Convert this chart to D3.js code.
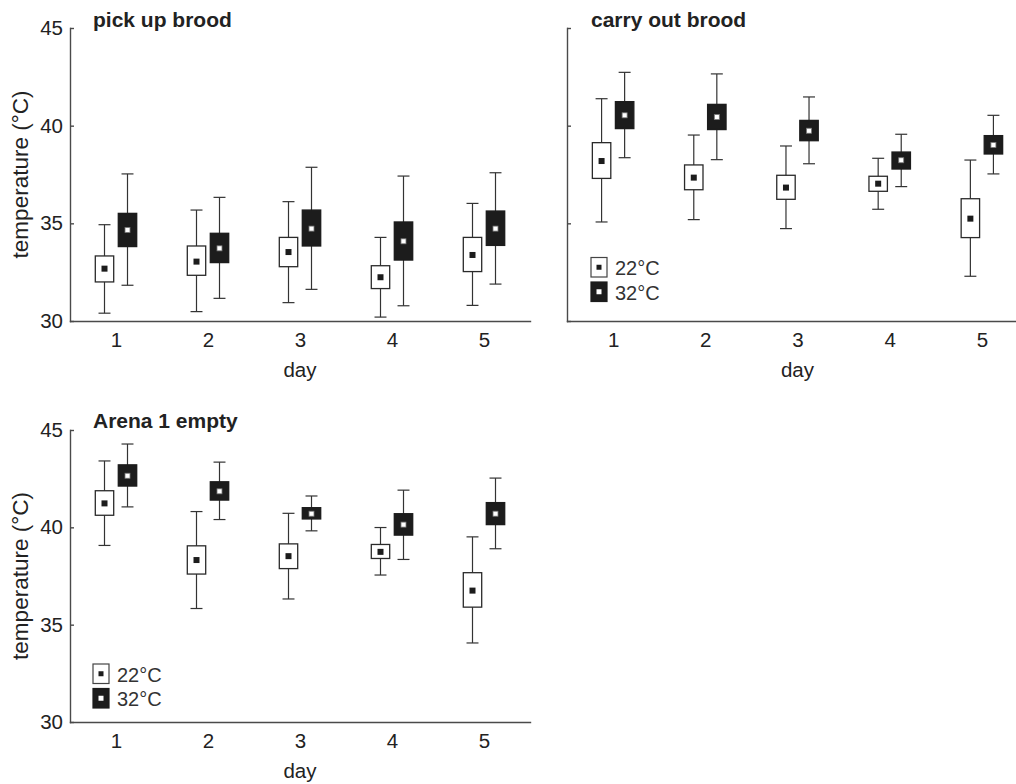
<!DOCTYPE html>
<html>
<head>
<meta charset="utf-8">
<script src="https://cdn.jsdelivr.net/npm/d3@7"></script>
<style>
  html, body { margin: 0; padding: 0; background: #fff; }
  svg { display: block; font-family: "Liberation Sans", Arial, Helvetica, sans-serif; }
</style>
</head>
<body>
<script>
// ---------------- data ----------------
const days = [1, 2, 3, 4, 5];
const yTicks = [30, 35, 40, 45];
const seriesNames = ["22°C", "32°C"];
const panelTitles = ["pick up brood", "carry out brood", "Arena 1 empty"];
const xLabel = "day";
const yLabel = "temperature (°C)";

// each entry: [whisker low, Q1, median, Q3, whisker high]
const pickUp22 = [
  [30.4, 32.0, 32.68, 33.33, 34.93],
  [30.48, 32.34, 33.04, 33.84, 35.68],
  [30.94, 32.78, 33.53, 34.28, 36.11],
  [30.2, 31.66, 32.24, 32.83, 34.28],
  [30.8, 32.53, 33.38, 34.28, 36.02]
];
const pickUp32 = [
  [31.83, 33.81, 34.66, 35.51, 37.53],
  [31.16, 32.99, 33.72, 34.49, 36.33],
  [31.62, 33.84, 34.73, 35.68, 37.87],
  [30.78, 33.12, 34.08, 35.07, 37.42],
  [31.89, 33.87, 34.73, 35.63, 37.59]
];
const carryOut22 = [
  [35.07, 37.30, 38.19, 39.13, 41.38],
  [35.19, 36.72, 37.34, 37.99, 39.52],
  [34.73, 36.23, 36.83, 37.46, 38.96],
  [35.72, 36.64, 37.03, 37.41, 38.33],
  [32.29, 34.27, 35.24, 36.26, 38.24]
];
const carryOut32 = [
  [38.36, 39.85, 40.53, 41.23, 42.73],
  [38.26, 39.80, 40.44, 41.09, 42.65],
  [38.05, 39.23, 39.74, 40.27, 41.47],
  [36.88, 37.78, 38.23, 38.65, 39.56],
  [37.53, 38.55, 39.01, 39.49, 40.53]
];
const arena22 = [
  [39.07, 40.62, 41.23, 41.88, 43.41],
  [35.83, 37.60, 38.32, 39.05, 40.81],
  [36.32, 37.88, 38.52, 39.15, 40.72],
  [37.55, 38.40, 38.74, 39.12, 39.99],
  [34.06, 35.90, 36.75, 37.67, 39.51]
];
const arena32 = [
  [41.05, 42.12, 42.65, 43.21, 44.28],
  [40.40, 41.40, 41.85, 42.34, 43.35],
  [39.82, 40.43, 40.70, 41.01, 41.61],
  [38.35, 39.60, 40.14, 40.70, 41.91],
  [38.90, 40.14, 40.70, 41.27, 42.53]
];

// ---------------- drawing ----------------
const W = 1016, H = 784;
const TXT = "#222";
const AX = "#4a4a4a";
const DARK = "#1c1c1c";

const svg = d3.select("body").append("svg").attr("width", W).attr("height", H);

function drawPanel(cfg) {
  const x = d3.scaleLinear().domain([0.5, 5.5]).range([cfg.x0, cfg.x1]);
  const y = d3.scaleLinear().domain([30, 45]).range([cfg.yb, cfg.yt]);
  const g = svg.append("g");

  // y axis
  const yAxis = d3.axisLeft(y).tickValues(yTicks).tickSizeInner(-4).tickSizeOuter(0).tickPadding(7);
  if (!cfg.yLabels) yAxis.tickFormat("");
  const ya = g.append("g").attr("transform", `translate(${cfg.x0},0)`).call(yAxis);
  ya.selectAll("path, line").attr("stroke", AX).attr("stroke-width", 1.4);
  ya.selectAll("text").attr("fill", TXT).style("font-size", "20.5px");

  // x axis
  const xAxis = d3.axisBottom(x).tickValues(days).tickSize(0).tickPadding(11).tickFormat(d3.format("d"));
  const xa = g.append("g").attr("transform", `translate(0,${cfg.yb})`).call(xAxis);
  xa.selectAll("path, line").attr("stroke", AX).attr("stroke-width", 1.4);
  xa.selectAll("text").attr("fill", TXT).style("font-size", "20.5px");
  g.selectAll(".domain").attr("stroke-linecap", "square");

  // x label
  g.append("text").attr("x", x(3)).attr("y", cfg.yb + 56)
    .attr("text-anchor", "middle").attr("fill", TXT).style("font-size", "20.5px").text(xLabel);

  // y label
  if (cfg.yTitle) {
    g.append("text")
      .attr("transform", `translate(28,${(cfg.yb + cfg.yt) / 2}) rotate(-90)`)
      .attr("text-anchor", "middle").attr("fill", TXT).style("font-size", "22.5px").text(yLabel);
  }

  // title
  g.append("text").attr("x", cfg.titleX).attr("y", cfg.titleY)
    .attr("fill", TXT).style("font-size", "21px").style("font-weight", "bold").text(cfg.title);

  // boxes
  const offs = [-0.125, 0.125];
  const bw = x(0.2) - x(0);
  const cw = x(0.13) - x(0);
  [cfg.s22, cfg.s32].forEach((series, si) => {
    const sg = g.append("g");
    const items = series.map((v, i) => ({ day: days[i], v }));
    const grp = sg.selectAll("g").data(items).join("g")
      .attr("transform", d => `translate(${x(d.day + offs[si])},0)`);
    grp.append("line").attr("x1", 0).attr("x2", 0)
      .attr("y1", d => y(d.v[0])).attr("y2", d => y(d.v[4]))
      .attr("stroke", "#333").attr("stroke-width", 1.2);
    grp.append("line").attr("x1", -cw / 2).attr("x2", cw / 2)
      .attr("y1", d => y(d.v[4])).attr("y2", d => y(d.v[4]))
      .attr("stroke", "#333").attr("stroke-width", 1.2);
    grp.append("line").attr("x1", -cw / 2).attr("x2", cw / 2)
      .attr("y1", d => y(d.v[0])).attr("y2", d => y(d.v[0]))
      .attr("stroke", "#333").attr("stroke-width", 1.2);
    grp.append("rect").attr("x", -bw / 2).attr("width", bw)
      .attr("y", d => y(d.v[3])).attr("height", d => y(d.v[1]) - y(d.v[3]))
      .attr("fill", si === 0 ? "#fff" : DARK)
      .attr("stroke", si === 0 ? "#2a2a2a" : DARK).attr("stroke-width", 1.3);
    const ms = si === 0 ? 6 : 5;
    grp.append("rect").attr("x", -ms / 2).attr("width", ms)
      .attr("y", d => y(d.v[2]) - ms / 2).attr("height", ms)
      .attr("fill", si === 0 ? DARK : "#fff")
      .attr("stroke", si === 0 ? "none" : "#777").attr("stroke-width", 0.8);
  });

  // legend
  if (cfg.legend) {
    const L = cfg.legend;
    seriesNames.forEach((name, i) => {
      const by = L.y + i * 24.5;
      g.append("rect").attr("x", L.x).attr("y", by).attr("width", 16).attr("height", 19.5)
        .attr("fill", i === 0 ? "#fff" : DARK).attr("stroke", i === 0 ? "#444" : DARK).attr("stroke-width", 1.2);
      g.append("rect").attr("x", L.x + 8 - 2.5).attr("y", by + 9.75 - 2.5).attr("width", 5).attr("height", 5)
        .attr("fill", i === 0 ? DARK : "#fff");
      g.append("text").attr("x", L.x + 24).attr("y", by + 17.5)
        .attr("fill", "#333").style("font-size", "20px").text(name);
    });
  }
}

drawPanel({ x0: 70, x1: 530, yb: 321, yt: 28, s22: pickUp22, s32: pickUp32,
  title: panelTitles[0], titleX: 93, titleY: 27, yLabels: true, yTitle: true });
drawPanel({ x0: 567, x1: 1028, yb: 321, yt: 28, s22: carryOut22, s32: carryOut32,
  title: panelTitles[1], titleX: 591, titleY: 27, yLabels: false, yTitle: false,
  legend: { x: 591, y: 257.5 } });
drawPanel({ x0: 70, x1: 530, yb: 722, yt: 430, s22: arena22, s32: arena32,
  title: panelTitles[2], titleX: 93, titleY: 428, yLabels: true, yTitle: true,
  legend: { x: 93, y: 664 } });
</script>
</body>
</html>
